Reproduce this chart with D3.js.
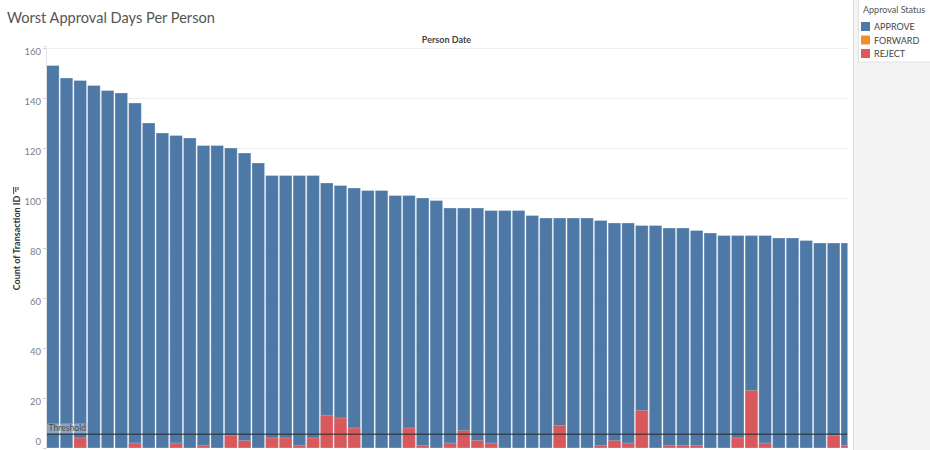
<!DOCTYPE html>
<html>
<head>
<meta charset="utf-8">
<script src="https://cdn.jsdelivr.net/npm/d3@7"></script>
<style>
  body { margin: 0; background: #fff; }
  svg { display: block; font-family: Lato, "Open Sans", sans-serif; }
</style>
</head>
<body>
<script>
// counts per person-date
const approve = [153, 148, 147, 145, 143, 142, 138, 130, 126, 125,
                 124, 121, 121, 120, 118, 114, 109, 109, 109, 109,
                 106, 105, 104, 103, 103, 101, 101, 100, 99, 96,
                 96, 96, 95, 95, 95, 93, 92, 92, 92, 92,
                 91, 90, 90, 89, 89, 88, 88, 87, 86, 85,
                 85, 85, 85, 84, 84, 83, 82, 82, 82];
const reject = [0, 0, 4, 0, 0, 0, 2, 0, 0, 2,
                0, 1, 0, 5, 3, 0, 4, 4, 1, 4,
                13, 12, 8, 0, 0, 0, 8, 1, 0, 2,
                7, 3, 2, 0, 0, 0, 0, 9, 0, 0,
                1, 3, 2, 15, 0, 1, 1, 1, 0, 0,
                4, 23, 2, 0, 0, 0, 0, 5, 1];
const threshold = 5.5;
const yTicks = [0, 20, 40, 60, 80, 100, 120, 140, 160];
const legendLabels = ["APPROVE", "FORWARD", "REJECT"];
const legendColors = ["#4e79a7", "#f28e2b", "#e15759"];

const width = 930;
const height = 450;
const plot = { left: 46.5, right: 847.5, top: 46, bottom: 448 };
const step = 13.68;

const svg = d3.select("body").append("svg")
    .attr("width", width)
    .attr("height", height);

// fit a text element to a measured width
function fit(sel, target, base) {
    const len = sel.node().getComputedTextLength();
    sel.style("font-size", (base * target / len).toFixed(2) + "px");
}

const x = d3.scaleBand()
    .domain(d3.range(approve.length))
    .range([plot.left, plot.left + step * approve.length])
    .paddingInner(0.08)
    .paddingOuter(0);

const y = d3.scaleLinear()
    .domain([0, 160.8])
    .range([plot.bottom, plot.top]);

// legend panel on the right
svg.append("rect")
    .attr("x", 853).attr("y", 0)
    .attr("width", width - 853).attr("height", height)
    .attr("fill", "#f3f3f3");
svg.append("line")
    .attr("x1", 853.5).attr("x2", 853.5)
    .attr("y1", 0).attr("y2", height)
    .attr("stroke", "#dcdcdc");
svg.append("rect")
    .attr("x", 858.5).attr("y", -1)
    .attr("width", 80).attr("height", 63)
    .attr("fill", "#fff")
    .attr("stroke", "#e2e2e2");
svg.append("text")
    .attr("x", 863).attr("y", 13)
    .style("font-size", "9px")
    .attr("fill", "#555")
    .text("Approval Status");

const legend = svg.append("g").selectAll("g")
    .data(legendLabels)
    .enter().append("g")
    .attr("transform", (d, i) => `translate(861, ${22 + i * 13.5})`);
legend.append("rect")
    .attr("width", 9).attr("height", 9)
    .attr("fill", (d, i) => legendColors[i]);
legend.append("text")
    .attr("x", 13).attr("y", 8)
    .style("font-size", "9px")
    .attr("fill", "#444")
    .text(d => d);

// gridlines
svg.append("g").selectAll("line")
    .data(yTicks.filter(d => d > 0))
    .enter().append("line")
    .attr("x1", plot.left).attr("x2", 848)
    .attr("y1", d => Math.round(y(d)) + 0.5)
    .attr("y2", d => Math.round(y(d)) + 0.5)
    .attr("stroke", "#f0f0f0");

svg.append("clipPath").attr("id", "clip")
    .append("rect")
    .attr("x", plot.left).attr("y", 0)
    .attr("width", plot.right - plot.left)
    .attr("height", plot.bottom);

const bars = svg.append("g").attr("clip-path", "url(#clip)");

bars.selectAll(".approve")
    .data(approve)
    .enter().append("rect")
    .attr("class", "approve")
    .attr("x", (d, i) => x(i))
    .attr("y", d => y(d))
    .attr("width", x.bandwidth())
    .attr("height", d => y(0) - y(d))
    .attr("fill", legendColors[0])
    .attr("stroke", "rgba(255,255,255,0.35)")
    .attr("stroke-width", 0.8);

bars.selectAll(".reject")
    .data(reject)
    .enter().append("rect")
    .attr("class", "reject")
    .attr("x", (d, i) => x(i))
    .attr("y", d => y(d))
    .attr("width", x.bandwidth())
    .attr("height", d => y(0) - y(d))
    .attr("fill", legendColors[2])
    .attr("opacity", 0.95)
    .attr("stroke", "rgba(255,255,255,0.3)")
    .attr("stroke-width", 0.8);

// threshold reference line
const ty = y(threshold);
bars.append("line")
    .attr("x1", plot.left).attr("x2", plot.right)
    .attr("y1", ty).attr("y2", ty)
    .attr("stroke", "#2b2b2b")
    .attr("stroke-opacity", 0.7)
    .attr("stroke-width", 1.6);
bars.append("rect")
    .attr("x", 47).attr("y", ty - 11)
    .attr("width", 40).attr("height", 10)
    .attr("fill", "rgba(255,255,255,0.35)")
    .attr("stroke", "rgba(110,110,110,0.5)")
    .attr("stroke-width", 0.6);
bars.append("text")
    .attr("x", 48.5).attr("y", ty - 3)
    .style("font-size", "8.6px")
    .attr("fill", "#4a4a4a")
    .text("Threshold");

// y axis
const yAxis = svg.append("g")
    .attr("transform", `translate(${plot.left - 0.5},0)`)
    .call(d3.axisLeft(y).tickValues(yTicks).tickSize(3).tickPadding(2));
yAxis.select(".domain").attr("stroke", "#e2e2e2");
yAxis.selectAll(".tick line").attr("stroke", "#cfcfcf");
yAxis.selectAll(".tick text")
    .attr("fill", "#808080")
    .style("font-size", "9.5px")
    .style("font-family", "Lato, 'Open Sans', sans-serif")
    .attr("dy", d => d === 0 ? "-0.35em" : "0.66em");

// axis title and sort icon
svg.append("text")
    .attr("transform", "translate(20,243) rotate(-90)")
    .attr("text-anchor", "middle")
    .style("font-size", "9px")
    .style("font-weight", "bold")
    .attr("fill", "#333")
    .text("Count of Transaction ID");
const icon = svg.append("g").attr("transform", "translate(13,187)");
[7, 5, 3].forEach((len, i) => {
    icon.append("rect")
        .attr("x", i * 2.2).attr("y", 0)
        .attr("width", 1.2).attr("height", len)
        .attr("fill", "#555");
});

// column header
svg.append("text")
    .attr("x", 446.5).attr("y", 43)
    .attr("text-anchor", "middle")
    .style("font-size", "9px")
    .style("font-weight", "bold")
    .attr("fill", "#444")
    .text("Person Date");

// title
const title = svg.append("text")
    .attr("x", 7).attr("y", 23)
    .style("font-size", "15px")
    .attr("fill", "#555")
    .text("Worst Approval Days Per Person");
fit(title, 208, 15);
</script>
</body>
</html>
